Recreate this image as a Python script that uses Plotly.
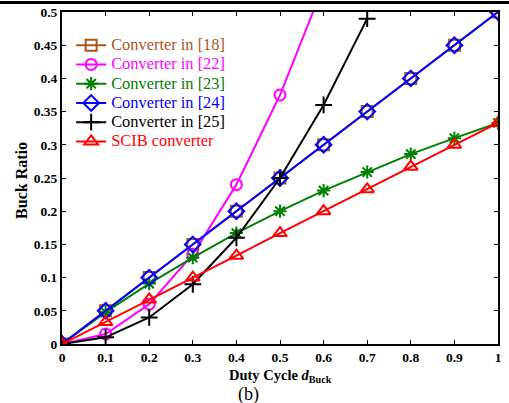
import plotly.graph_objects as go

duty = [0, 0.1, 0.2, 0.3, 0.4, 0.5, 0.6, 0.7, 0.8, 0.9, 1.0]
conv18 = [0, 0.05, 0.10, 0.15, 0.20, 0.25, 0.30, 0.35, 0.40, 0.45, 0.50]
duty22 = [0, 0.1, 0.2, 0.3, 0.4, 0.5, 0.6]
conv22 = [0, 0.015, 0.06, 0.135, 0.24, 0.375, 0.54]
conv23 = [0, 0.048, 0.091, 0.130, 0.167, 0.200, 0.231, 0.259, 0.286, 0.310, 0.333]
conv24 = [0, 0.05, 0.10, 0.15, 0.20, 0.25, 0.30, 0.35, 0.40, 0.45, 0.50]
duty25 = [0, 0.1, 0.2, 0.3, 0.4, 0.5, 0.6, 0.7]
conv25 = [0, 0.01, 0.04, 0.09, 0.16, 0.25, 0.36, 0.49]
scib = [0, 0.033, 0.067, 0.100, 0.133, 0.167, 0.200, 0.233, 0.267, 0.300, 0.333]

x_ticks = [0, 0.1, 0.2, 0.3, 0.4, 0.5, 0.6, 0.7, 0.8, 0.9, 1.0]
x_tick_text = ["0", "0.1", "0.2", "0.3", "0.4", "0.5", "0.6", "0.7", "0.8", "0.9", "1"]
y_ticks = [0, 0.05, 0.1, 0.15, 0.2, 0.25, 0.3, 0.35, 0.4, 0.45, 0.5]
y_tick_text = ["0", "0.05", "0.1", "0.15", "0.2", "0.25", "0.3", "0.35", "0.4", "0.45", "0.5"]

BROWN = "#a9561e"
MAGENTA = "#ff00ff"
GREEN = "#008000"
BLUE = "#0000ff"
BLACK = "#000000"
RED = "#ff0000"

series = [
    ("Converter in [18]", duty, conv18, BROWN, "square-open", 11),
    ("Converter in [22]", duty22, conv22, MAGENTA, "circle-open", 11),
    ("Converter in [23]", duty, conv23, GREEN, "asterisk-open", 11),
    ("Converter in [24]", duty, conv24, BLUE, "diamond-open", 12),
    ("Converter in [25]", duty25, conv25, BLACK, "cross-thin-open", 12),
    ("SCIB converter", duty, scib, RED, "triangle-up-open", 12),
]

fig = go.Figure()
for name, xs, ys, col, sym, sz in series:
    fig.add_trace(go.Scatter(
        x=xs, y=ys, mode="lines+markers",
        name=f"<span style='color:{col};font-size:16.4px'>{name}</span>",
        line=dict(color=col, width=2),
        marker=dict(symbol=sym, size=sz, color=col, line=dict(color=col, width=2)),
    ))

axis_common = dict(
    showline=True, mirror="ticks", linecolor="black", linewidth=2,
    ticks="inside", ticklen=4, tickwidth=1, tickcolor="black",
    showgrid=False, zeroline=False, automargin=False,
    tickfont=dict(family="Liberation Serif", size=13.5, color="black", weight="bold"),
)

fig.update_layout(
    width=509, height=403,
    margin=dict(l=62, r=11, t=12, b=59, autoexpand=False),
    paper_bgcolor="white", plot_bgcolor="white",
    showlegend=True,
    legend=dict(
        x=0.021, y=0.944, xanchor="left", yanchor="top",
        bgcolor="rgba(255,255,255,0)", borderwidth=0,
        font=dict(family="Liberation Serif", size=12.5),
        itemwidth=30, tracegroupgap=0,
    ),
    xaxis=dict(range=[0, 1], tickvals=x_ticks, ticktext=x_tick_text, **axis_common),
    yaxis=dict(range=[0, 0.5], tickvals=y_ticks, ticktext=y_tick_text, **axis_common),
)

fig.add_annotation(
    text="<b>Duty Cycle <i>d</i><sub>Buck</sub></b>",
    xref="paper", yref="paper", x=0.5, y=-0.062, xanchor="center", yanchor="top",
    showarrow=False, font=dict(family="Liberation Serif", size=14.5, color="black"),
)
fig.add_annotation(
    text="(b)",
    xref="paper", yref="paper", x=0.427, y=-0.115, xanchor="center", yanchor="top",
    showarrow=False, font=dict(family="Liberation Serif", size=18, color="black"),
)
fig.add_annotation(
    text="<b>Buck Ratio</b>",
    xref="paper", yref="paper", x=-0.093, y=0.4925, xanchor="center", yanchor="middle",
    textangle=-90,
    showarrow=False, font=dict(family="Liberation Serif", size=16, color="black"),
)
fig.add_shape(
    type="line", xref="paper", yref="paper",
    x0=-62 / 436, x1=(509 - 62) / 436, y0=1 + 9.5 / 332, y1=1 + 9.5 / 332,
    line=dict(color="black", width=3),
)

fig.write_html(
    "out.html",
    config={"displayModeBar": False, "responsive": False},
    post_script="document.body.style.margin='0';document.body.style.overflow='hidden';",
)
